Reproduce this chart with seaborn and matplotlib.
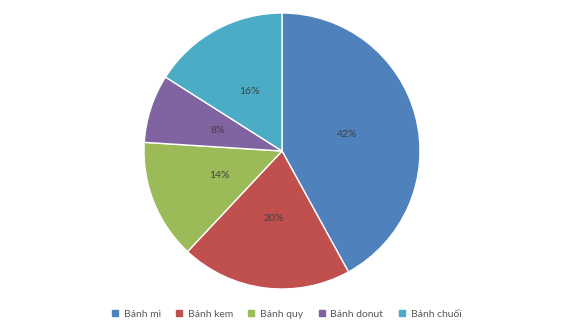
import matplotlib
matplotlib.use("Agg")
import matplotlib.pyplot as plt
from matplotlib.lines import Line2D
import seaborn as sns

categories = ["Bánh mì", "Bánh kem", "Bánh quy", "Bánh donut", "Bánh chuối"]
values = [42, 20, 14, 8, 16]
colors = ["#4F81BD", "#C0504D", "#9BBB59", "#8064A2", "#4BACC6"]

sns.set_theme(style="white")
plt.rcParams['font.family'] = ['Lato', 'DejaVu Sans']

fig = plt.figure(figsize=(5.63, 3.31), dpi=100)
ax = fig.add_axes([144/563, 42/331, 276/563, 276/331])
palette = sns.color_palette(colors)
wedges, texts, autotexts = ax.pie(
    values, colors=palette, startangle=90, counterclock=False,
    autopct="%1.0f%%", pctdistance=0.49,
    wedgeprops=dict(edgecolor="white", linewidth=1),
    textprops=dict(color="#404040", fontsize=7.5))
ax.set_xlim(-1, 1)
ax.set_ylim(-1, 1)
ax.set_aspect("equal")
ax.axis("off")

handles = [Line2D([0], [0], marker="s", linestyle="", markersize=4.5,
                  markerfacecolor=c, markeredgecolor=c) for c in colors]
leg = fig.legend(handles, categories, loc="center", bbox_to_anchor=(0.508, 1 - 314/331),
                 ncol=5, frameon=False, fontsize=7.5, handletextpad=0.45,
                 columnspacing=1.35, handlelength=0.8, labelcolor="#595959")
fig.savefig("out.png", dpi=100)
